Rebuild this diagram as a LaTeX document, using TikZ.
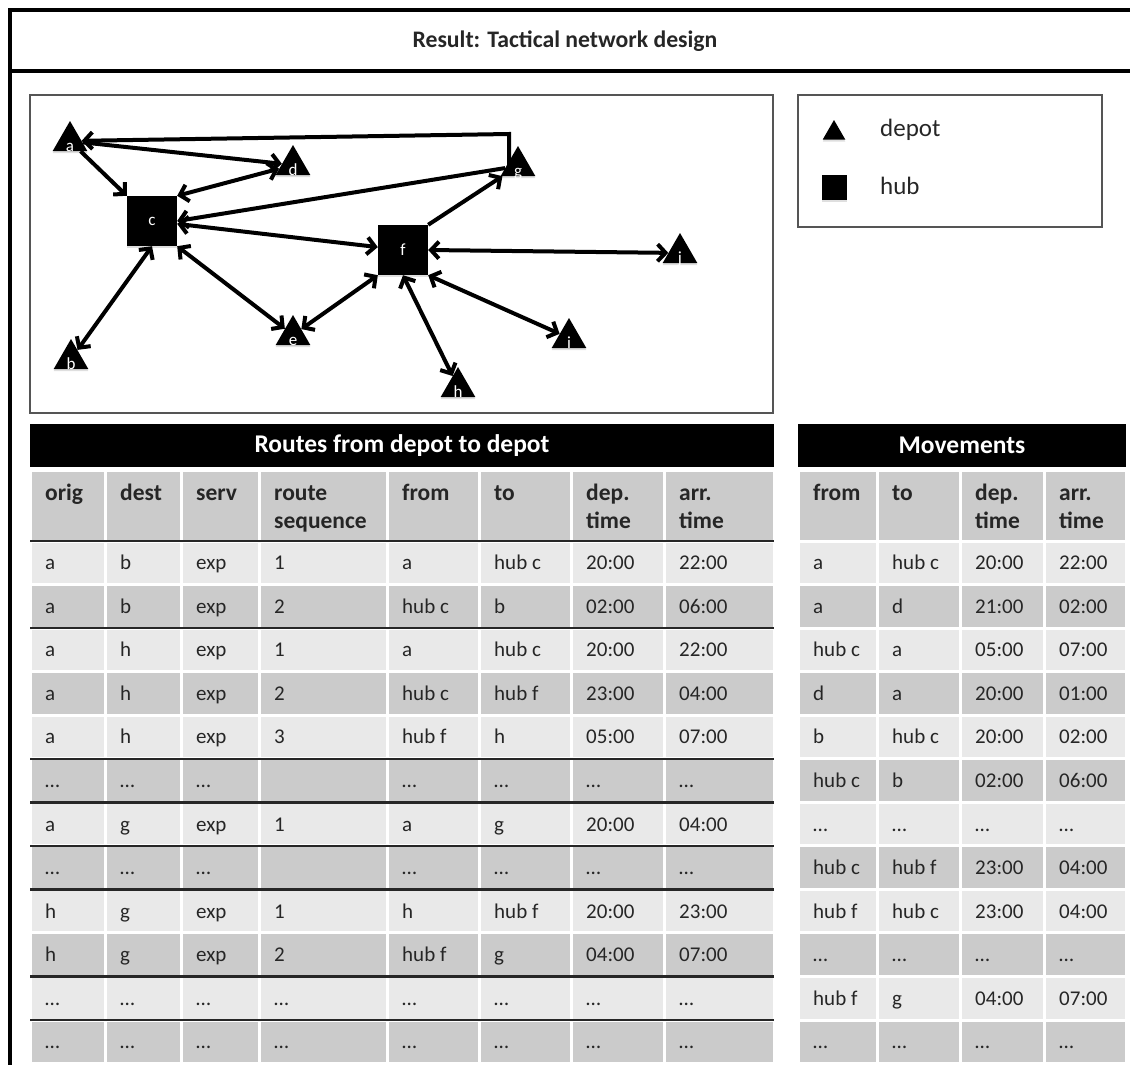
\documentclass[tikz,border=0pt]{standalone}
\usepackage{fontspec}
\setmainfont{Carlito}
\usetikzlibrary{arrows.meta,shapes.geometric,shadows}
\definecolor{rowlight}{HTML}{E9E9E9}
\definecolor{rowdark}{HTML}{CBCBCB}
\definecolor{framegray}{HTML}{555555}
\definecolor{txt}{HTML}{262626}
\tikzset{barb/.tip={Straight Barb[length=8pt,width=17pt]}}
\begin{document}
\begin{tikzpicture}[x=1pt,y=-1pt,
  conn/.style={line width=4pt,line join=miter},
  arr/.style={conn,-barb},
  darr/.style={conn,barb-barb},
  shd/.style={drop shadow={opacity=0.25,shadow xshift=0pt,shadow yshift=-2pt}},
  depot/.style={regular polygon,regular polygon sides=3,fill=black,minimum size=40pt,inner sep=0pt,label distance=-4pt,shd},
  hub/.style={rectangle,fill=black,minimum size=50pt,inner sep=0pt,text=white,font=\fontsize{17}{20}\selectfont,shd},
  dlbl/.style={text=white,font=\fontsize{17}{20}\selectfont,anchor=base,inner sep=0pt},
  frame/.style={draw=framegray,line width=1.2pt},
  barhead/.style={text=white,font=\bfseries\fontsize{25.5}{30}\selectfont,inner sep=0pt},
  colhead/.style={anchor=base west,inner sep=0pt,align=left,text=txt,font=\bfseries\fontsize{23.5}{28}\selectfont},
  cell/.style={anchor=base west,inner sep=0pt,text=txt,font=\fontsize{21}{25}\selectfont},
  sepline/.style={draw=black!85,line width=2.5pt},
  legtext/.style={anchor=west,inner sep=0pt,text=txt,font=\fontsize{25}{30}\selectfont}
]
\useasboundingbox (0,0) rectangle (1130,1065);

% outer frame and title
\draw[line width=4pt] (10,1065) -- (10,10) -- (1130,10);
\draw[line width=4pt] (10,71) -- (1130,71);
\node[inner sep=0pt,text=txt,font=\bfseries\fontsize{23.7}{28}\selectfont] (title) at (565,41) {Result: Tactical network design};

% network panel
\draw[frame] (30,95) rectangle (773,413);
\node[depot,label={[dlbl]south:a}] (a) at (70,141) {};
\node[depot,label={[dlbl]south:d}] (d) at (293,165) {};
\node[depot,label={[dlbl]south:g}] (g) at (518,166) {};
\node[depot,label={[dlbl]south:e}] (e) at (293,335) {};
\node[depot,label={[dlbl]south:b}] (b) at (71,359) {};
\node[depot,label={[dlbl]south:j}] (j) at (680,253) {};
\node[depot,label={[dlbl]south:i}] (i) at (569,338) {};
\node[depot,label={[dlbl]south:h}] (h) at (458,387) {};
\node[hub] (c) at (152,221) {c};
\node[hub] (f) at (403,250) {f};
\coordinate (gtop) at (509,134);

\draw[arr] (g.center -| gtop) -- (gtop) -- (a);
\draw[arr] (a) -- (c.north west);
\draw[arr] (a) -- (d);
\draw[darr] (d) -- (c.north east);
\draw[arr] (g) -- (c.east);
\draw[darr] (c) -- (f);
\draw[darr] (c.south) -- (b);
\draw[darr] (c.south east) -- (e);
\draw[darr] (e) -- (f.south west);
\draw[arr] (f.north east) -- (g);
\draw[darr] (f.east) -- (j);
\draw[darr] (f.south east) -- (i);
\draw[darr] (f.south) -- (h);

% legend
\draw[frame] (798,95) rectangle (1102,227);
\node[regular polygon,regular polygon sides=3,fill=black,minimum size=26pt,inner sep=0pt,shd] (legdepot) at (834,133) {};
\node[rectangle,fill=black,minimum size=25pt,inner sep=0pt,shd] (leghub) at (834,187) {};
\node[legtext] (legdepottext) at (880,130) {depot};
\node[legtext] (leghubtext) at (880,186) {hub};

% ---------- Routes table ----------
\def\rx{{30,105,181,259,387,479,571,664,774}}
\fill[black] (30,424) rectangle (774,467);
\node[barhead] (rhead) at (402,445.5) {Routes from depot to depot};
\foreach \xa/\xb in {30/105,105/181,181/259,259/387,387/479,479/571,571/664,664/774}{
  \fill[rowdark] (\xa+1.5,472) rectangle (\xb-1.5,540);
  \foreach \r in {1,...,12}{
    \pgfmathsetmacro\yt{541+(\r-1)*43.55}
    \pgfmathsetmacro\yb{\yt+43.55}
    \ifodd\r \def\rc{rowlight}\else\def\rc{rowdark}\fi
    \fill[\rc] (\xa+1.5,\yt+1.5) rectangle (\xb-1.5,\yb-1.5);
  }
}
\foreach \t/\yy [count=\k] in {orig/500,dest/500,serv/500,{route\\sequence}/528,from/500,to/500,{dep.\\time}/528,{arr.\\time}/528}{
  \pgfmathsetmacro\xl{\rx[\k-1]}
  \node[colhead] (rh-\k) at (\xl+15,\yy) {\t};
}
\foreach \cells [count=\r] in {
  {a,b,exp,1,a,hub c,20:00,22:00},
  {a,b,exp,2,hub c,b,02:00,06:00},
  {a,h,exp,1,a,hub c,20:00,22:00},
  {a,h,exp,2,hub c,hub f,23:00,04:00},
  {a,h,exp,3,hub f,h,05:00,07:00},
  {…,…,…,,…,…,…,…},
  {a,g,exp,1,a,g,20:00,04:00},
  {…,…,…,,…,…,…,…},
  {h,g,exp,1,h,hub f,20:00,23:00},
  {h,g,exp,2,hub f,g,04:00,07:00},
  {…,…,…,…,…,…,…,…},
  {…,…,…,…,…,…,…,…}}{
  \pgfmathsetmacro\ym{541+(\r-0.5)*43.55}
  \foreach \v [count=\k] in \cells {
    \pgfmathsetmacro\xl{\rx[\k-1]}
    \node[cell] (rc-\r-\k) at (\xl+15,\ym+7) {\v};
  }
}
\foreach \y in {541,628.1,758.75,802.3,845.85,889.4,976.5,1020.05}{
  \draw[sepline] (30,\y) -- (774,\y);
}

% ---------- Movements table ----------
\def\mx{{798,877,960,1044,1126}}
\fill[black] (798,424) rectangle (1126,467);
\node[barhead] (mhead) at (962,445.5) {Movements};
\foreach \xa/\xb in {798/877,877/960,960/1044,1044/1126}{
  \fill[rowdark] (\xa+1.5,472) rectangle (\xb-1.5,540);
  \foreach \r in {1,...,12}{
    \pgfmathsetmacro\yt{541+(\r-1)*43.55}
    \pgfmathsetmacro\yb{\yt+43.55}
    \ifodd\r \def\rc{rowlight}\else\def\rc{rowdark}\fi
    \fill[\rc] (\xa+1.5,\yt+1.5) rectangle (\xb-1.5,\yb-1.5);
  }
}
\foreach \t/\yy [count=\k] in {from/500,to/500,{dep.\\time}/528,{arr.\\time}/528}{
  \pgfmathsetmacro\xl{\mx[\k-1]}
  \node[colhead] (mh-\k) at (\xl+15,\yy) {\t};
}
\foreach \cells [count=\r] in {
  {a,hub c,20:00,22:00},
  {a,d,21:00,02:00},
  {hub c,a,05:00,07:00},
  {d,a,20:00,01:00},
  {b,hub c,20:00,02:00},
  {hub c,b,02:00,06:00},
  {…,…,…,…},
  {hub c,hub f,23:00,04:00},
  {hub f,hub c,23:00,04:00},
  {…,…,…,…},
  {hub f,g,04:00,07:00},
  {…,…,…,…}}{
  \pgfmathsetmacro\ym{541+(\r-0.5)*43.55}
  \foreach \v [count=\k] in \cells {
    \pgfmathsetmacro\xl{\mx[\k-1]}
    \node[cell] (mc-\r-\k) at (\xl+15,\ym+7) {\v};
  }
}
\end{tikzpicture}
\end{document}
